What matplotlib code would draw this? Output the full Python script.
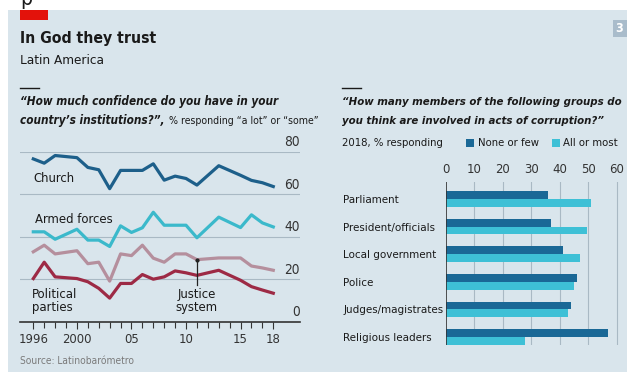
import matplotlib
matplotlib.use("Agg")
import matplotlib.pyplot as plt
from matplotlib import font_manager
from matplotlib.patches import Rectangle
from matplotlib.transforms import blended_transform_factory

# pick a narrow face if one is installed, else plain sans
fonts = font_manager.fontManager.ttflist
names = {f.name for f in fonts}
if 'Liberation Sans Narrow' in names:
    plt.rcParams['font.family'] = ['Liberation Sans Narrow', 'DejaVu Sans']
elif any(f.name == 'DejaVu Sans' and 'condensed' in str(f.stretch) for f in fonts):
    plt.rcParams['font.family'] = ['DejaVu Sans']
    plt.rcParams['font.stretch'] = 'condensed'
elif 'Roboto' in names:
    plt.rcParams['font.family'] = ['Roboto', 'DejaVu Sans']
else:
    plt.rcParams['font.family'] = ['Liberation Sans', 'DejaVu Sans']

# left panel: confidence in institutions, % responding "a lot" or "some"
years = [1996, 1997, 1998, 2000, 2001, 2002, 2003, 2004, 2005, 2006,
         2007, 2008, 2009, 2010, 2011, 2013, 2015, 2016, 2017, 2018]
church = [76.6, 74.6, 78.2, 77.2, 72.6, 71.5, 62.6, 71.2, 71.2, 71.2,
          74.3, 66.6, 68.5, 67.4, 64.3, 73.4, 68.9, 66.5, 65.4, 63.6]
armed = [42.3, 42.3, 38.8, 43.5, 38.4, 38.4, 35.4, 45.1, 42.0, 44.2,
         51.5, 45.4, 45.4, 45.4, 39.5, 49.2, 44.3, 50.3, 46.5, 44.6]
justice = [32.9, 36.0, 31.9, 33.4, 27.3, 28.0, 19.1, 31.9, 31.1, 36.0,
           29.9, 28.0, 31.9, 31.9, 29.2, 30.0, 30.0, 26.2, 25.3, 24.2]
parties = [20.3, 28.0, 21.1, 20.3, 18.8, 15.7, 11.1, 18.0, 18.0, 22.2,
           20.0, 21.1, 23.9, 23.0, 21.8, 24.2, 19.5, 16.5, 14.9, 13.4]
xticks = [1996, 2000, 2005, 2010, 2015, 2018]
xtick_labels = ["1996", "2000", "05", "10", "15", "18"]
yticks = [0, 20, 40, 60, 80]

# right panel: corruption perception, 2018
groups = ["Parliament", "President/officials", "Local government",
          "Police", "Judges/magistrates", "Religious leaders"]
none_few = [35.8, 36.8, 41.0, 46.0, 43.9, 56.9]
all_most = [50.9, 49.6, 47.0, 45.0, 43.0, 27.9]

BG = '#d9e5ec'
GRID = '#a9b9c4'
DARK = '#1d5f8a'
CYAN = '#3bb9cb'
MAUVE = '#b58f9d'
RED = '#9d2a45'
BAR_DARK = '#1a6896'
BAR_CYAN = '#3ec0d6'
TXT = '#1a1a1a'

W, H = 627, 372
fig = plt.figure(figsize=(W / 100, H / 100), dpi=100)
fig.patch.set_facecolor('white')
renderer = fig.canvas.get_renderer()

def fx(px):
    return px / W

def fy(py):
    return 1 - py / H

def fit(t, width_px):
    # scale font so the text spans about the width seen in the reference
    w = t.get_window_extent(renderer).width
    t.set_fontsize(t.get_fontsize() * width_px / w)
    return t

def right_edge(t):
    return t.get_window_extent(renderer).x1

# background panel and header bits
fig.patches.append(Rectangle((fx(8), 0), 1 - fx(8), fy(10), transform=fig.transFigure,
                             facecolor=BG, edgecolor='none', zorder=-10))
fig.patches.append(Rectangle((fx(20), fy(20)), fx(28), fy(10) - fy(20), transform=fig.transFigure,
                             facecolor='#e3120b', edgecolor='none', zorder=-5))
fig.patches.append(Rectangle((fx(613), fy(37)), fx(14), fy(20) - fy(37), transform=fig.transFigure,
                             facecolor='#a9bccb', edgecolor='none', zorder=-5))
fig.text(fx(619), fy(28.5), "3", color='white', fontsize=9, fontweight='bold',
         ha='center', va='center')
fig.text(fx(20), fy(-1), "p", color=TXT, fontsize=15, ha='left', va='center')

fit(fig.text(fx(20), fy(39), "In God they trust", fontsize=13, fontweight='bold',
             color=TXT, ha='left', va='center'), 136)
fit(fig.text(fx(20), fy(60), "Latin America", fontsize=10, color=TXT,
             ha='left', va='center'), 84)

for x0 in (20, 342):
    fig.lines.append(plt.Line2D([fx(x0), fx(x0 + 19)], [fy(88), fy(88)],
                                transform=fig.transFigure, color=TXT, lw=1))

q1 = fit(fig.text(fx(20), fy(102), "\u201cHow much confidence do you have in your",
                  fontsize=10, fontweight='bold', style='italic', color=TXT,
                  ha='left', va='center'), 258)
q1b = fig.text(fx(20), fy(121), "country\u2019s institutions?\u201d,",
               fontsize=q1.get_fontsize(), fontweight='bold', style='italic',
               color=TXT, ha='left', va='center')
q1c = fit(fig.text(right_edge(q1b) / W + fx(4), fy(121),
                   "% responding \u201ca lot\u201d or \u201csome\u201d",
                   fontsize=9, color=TXT, ha='left', va='center'), 150)

q2 = fit(fig.text(fx(342), fy(102), "\u201cHow many members of the following groups do",
                  fontsize=10, fontweight='bold', style='italic', color=TXT,
                  ha='left', va='center'), 280)
fig.text(fx(342), fy(121), "you think are involved in acts of corruption?\u201d",
         fontsize=q2.get_fontsize(), fontweight='bold', style='italic', color=TXT,
         ha='left', va='center')
sub = fit(fig.text(fx(342), fy(143), "2018, % responding", fontsize=9.5, color=TXT,
                   ha='left', va='center'), 103)
fs_small = sub.get_fontsize()
fig.patches.append(Rectangle((fx(466), fy(147)), fx(8), fy(139) - fy(147), transform=fig.transFigure,
                             facecolor=BAR_DARK, edgecolor='none'))
fig.text(fx(478), fy(143), "None or few", fontsize=fs_small, color=TXT, ha='left', va='center')
fig.patches.append(Rectangle((fx(552), fy(147)), fx(8), fy(139) - fy(147), transform=fig.transFigure,
                             facecolor=BAR_CYAN, edgecolor='none'))
fig.text(fx(563), fy(143), "All or most", fontsize=fs_small, color=TXT, ha='left', va='center')

fit(fig.text(fx(20), fy(361), "Source: Latinobar\u00f3metro", fontsize=8, color='#7a7a7a',
             ha='left', va='center'), 112)

# size for the bar group labels, so the longest one stops short of the zero line
tmp = fit(fig.text(0, 0, "Judges/magistrates", fontsize=10), 100)
fs_bar = tmp.get_fontsize()
tmp.remove()

# ---- left line chart ----
ax = fig.add_axes([fx(20), fy(321.7), fx(300) - fx(20), fy(151.7) - fy(321.7)])
ax.set_facecolor('none')
ax.set_xlim(1994.78, 2020.45)
ax.set_ylim(0, 80)
for s in ax.spines.values():
    s.set_visible(False)
for v in yticks[1:]:
    ax.axhline(v, color=GRID, lw=0.8, zorder=1)
ax.axhline(0, color='#333333', lw=1.2, zorder=3, clip_on=False)
tr = blended_transform_factory(ax.transAxes, ax.transData)
for v in yticks:
    ax.text(1.0, v + 1.2, str(v), transform=tr, ha='right', va='bottom',
            fontsize=fs_small * 1.2, color='#333333')

ax.plot(years, church, color=DARK, lw=2.3, clip_on=False, zorder=4)
ax.plot(years, armed, color=CYAN, lw=2.3, clip_on=False, zorder=4)
ax.plot(years, justice, color=MAUVE, lw=2.3, clip_on=False, zorder=4)
ax.plot(years, parties, color=RED, lw=2.3, clip_on=False, zorder=4)

j11 = justice[years.index(2011)]
ax.plot([2011, 2011], [j11, 17.2], color='#222222', lw=0.9, zorder=5)
ax.plot([2011], [j11], 'o', color='#222222', ms=2, zorder=5)

lab = fit(ax.text(1996, 67.5, "Church", fontsize=10.5, color=TXT, ha='left', va='center'), 42)
fs_lab = lab.get_fontsize()
ax.text(1996.2, 48.3, "Armed forces", fontsize=fs_lab, color=TXT, ha='left', va='center')
ax.text(1995.9, 9.8, "Political\nparties", fontsize=fs_lab, color=TXT, ha='left',
        va='center', linespacing=0.95)
ax.text(2011, 9.8, "Justice\nsystem", fontsize=fs_lab, color=TXT, ha='center',
        va='center', linespacing=0.95)

ax.set_xticks(xticks)
ax.set_xticklabels(xtick_labels)
ax.set_xticks(range(1996, 2019), minor=True)
ax.tick_params(axis='x', which='major', length=5, width=0.8, color='#333333',
               labelsize=fs_lab, labelcolor='#333333', pad=3)
ax.tick_params(axis='x', which='minor', length=4, width=0.8, color='#333333')
ax.set_yticks([])

# ---- right bar chart ----
bx = fig.add_axes([fx(446), fy(345), fx(625.2) - fx(446), fy(182) - fy(345)])
bx.set_facecolor('none')
pos = list(range(len(groups)))
h = 0.28
bx.barh([p - h / 2 for p in pos], none_few, height=h, color=BAR_DARK, zorder=3)
bx.barh([p + h / 2 for p in pos], all_most, height=h, color=BAR_CYAN, zorder=3)
bx.set_xlim(0, 63)
bx.set_ylim(5.29, -0.616)
for s in bx.spines.values():
    s.set_visible(False)
bx.axvline(0, color='#333333', lw=1.2, zorder=4)
for v in range(10, 70, 10):
    bx.axvline(v, color=GRID, lw=0.8, zorder=1)
bx.xaxis.tick_top()
bx.set_xticks(range(0, 70, 10))
bx.tick_params(axis='x', length=0, labelsize=fs_lab, labelcolor='#333333', pad=4)
bx.set_yticks(pos)
bx.set_yticklabels(groups)
bx.tick_params(axis='y', length=0, labelsize=fs_bar, labelcolor=TXT, pad=74)
for lab in bx.get_yticklabels():
    lab.set_horizontalalignment('left')

fig.savefig("out.png", dpi=100, facecolor=fig.get_facecolor())
